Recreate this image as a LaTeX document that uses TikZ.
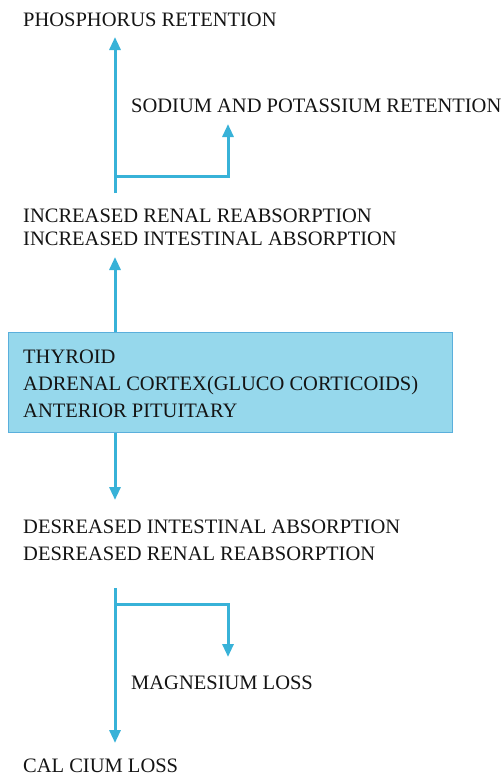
\documentclass[tikz,border=0pt]{standalone}
\usepackage{fontspec}
\setmainfont{Liberation Serif}
\usetikzlibrary{arrows.meta}
\definecolor{flowc}{RGB}{56,178,216}
\definecolor{boxfill}{RGB}{150,216,236}
\definecolor{boxdraw}{RGB}{90,175,220}
\definecolor{txt}{RGB}{20,20,20}
\tikzset{
  lbl/.style={anchor=base west,inner sep=0pt,text=txt,font=\fontsize{20.5}{24}\selectfont},
  flow/.style={draw=flowc,line width=3pt,-{Triangle[length=13pt,width=11pt]}},
  glandbox/.style={draw=boxdraw,line width=1pt,fill=boxfill,anchor=north west,minimum width=444pt,minimum height=100pt,inner sep=0pt}
}
\begin{document}
\begin{tikzpicture}[x=1pt,y=-1pt]
\useasboundingbox (0,0) rectangle (501,777);
% texts
\node[lbl] (phos) at (23,26) {PHOSPHORUS RETENTION};
\node[lbl] (sod) at (131,112) {SODIUM AND POTASSIUM RETENTION};
\node[lbl] (incA) at (23,222) {INCREASED RENAL REABSORPTION};
\node[lbl] (incB) at (23,245) {INCREASED INTESTINAL ABSORPTION};
\node[glandbox] (gl) at (8,332) {};
\node[lbl] (thy) at (23,363) {THYROID};
\node[lbl] (adr) at (23,390) {ADRENAL CORTEX(GLUCO CORTICOIDS)};
\node[lbl] (ant) at (23,417) {ANTERIOR PITUITARY};
\node[lbl] (decA) at (23,533) {DESREASED INTESTINAL ABSORPTION};
\node[lbl] (decB) at (23,560) {DESREASED RENAL REABSORPTION};
\node[lbl] (mag) at (131,689) {MAGNESIUM LOSS};
\node[lbl] (cal) at (23,772) {CAL CIUM LOSS};
% coordinates
\coordinate (upStart) at (115,193);
\coordinate (upTip) at (115,37);
\coordinate (brA) at (115,176);
\coordinate (brB) at (228,176);
\coordinate (sodTip) at (228,124);
\coordinate (incTip) at (115,257);
\coordinate (decTip) at (115,500);
\coordinate (dnStart) at (115,588);
\coordinate (dnTip) at (115,743);
\coordinate (brC) at (115,604);
\coordinate (brD) at (228,604);
\coordinate (magTip) at (228,657);
% connectors
\draw[flow] (upStart) -- (upTip);
\draw[flow] (brA) -- (brB) -- (sodTip);
\draw[flow] (gl.north -| incTip) -- (incTip);
\draw[flow] (gl.south -| decTip) -- (decTip);
\draw[flow] (dnStart) -- (dnTip);
\draw[flow] (brC) -- (brD) -- (magTip);
\end{tikzpicture}
\end{document}
